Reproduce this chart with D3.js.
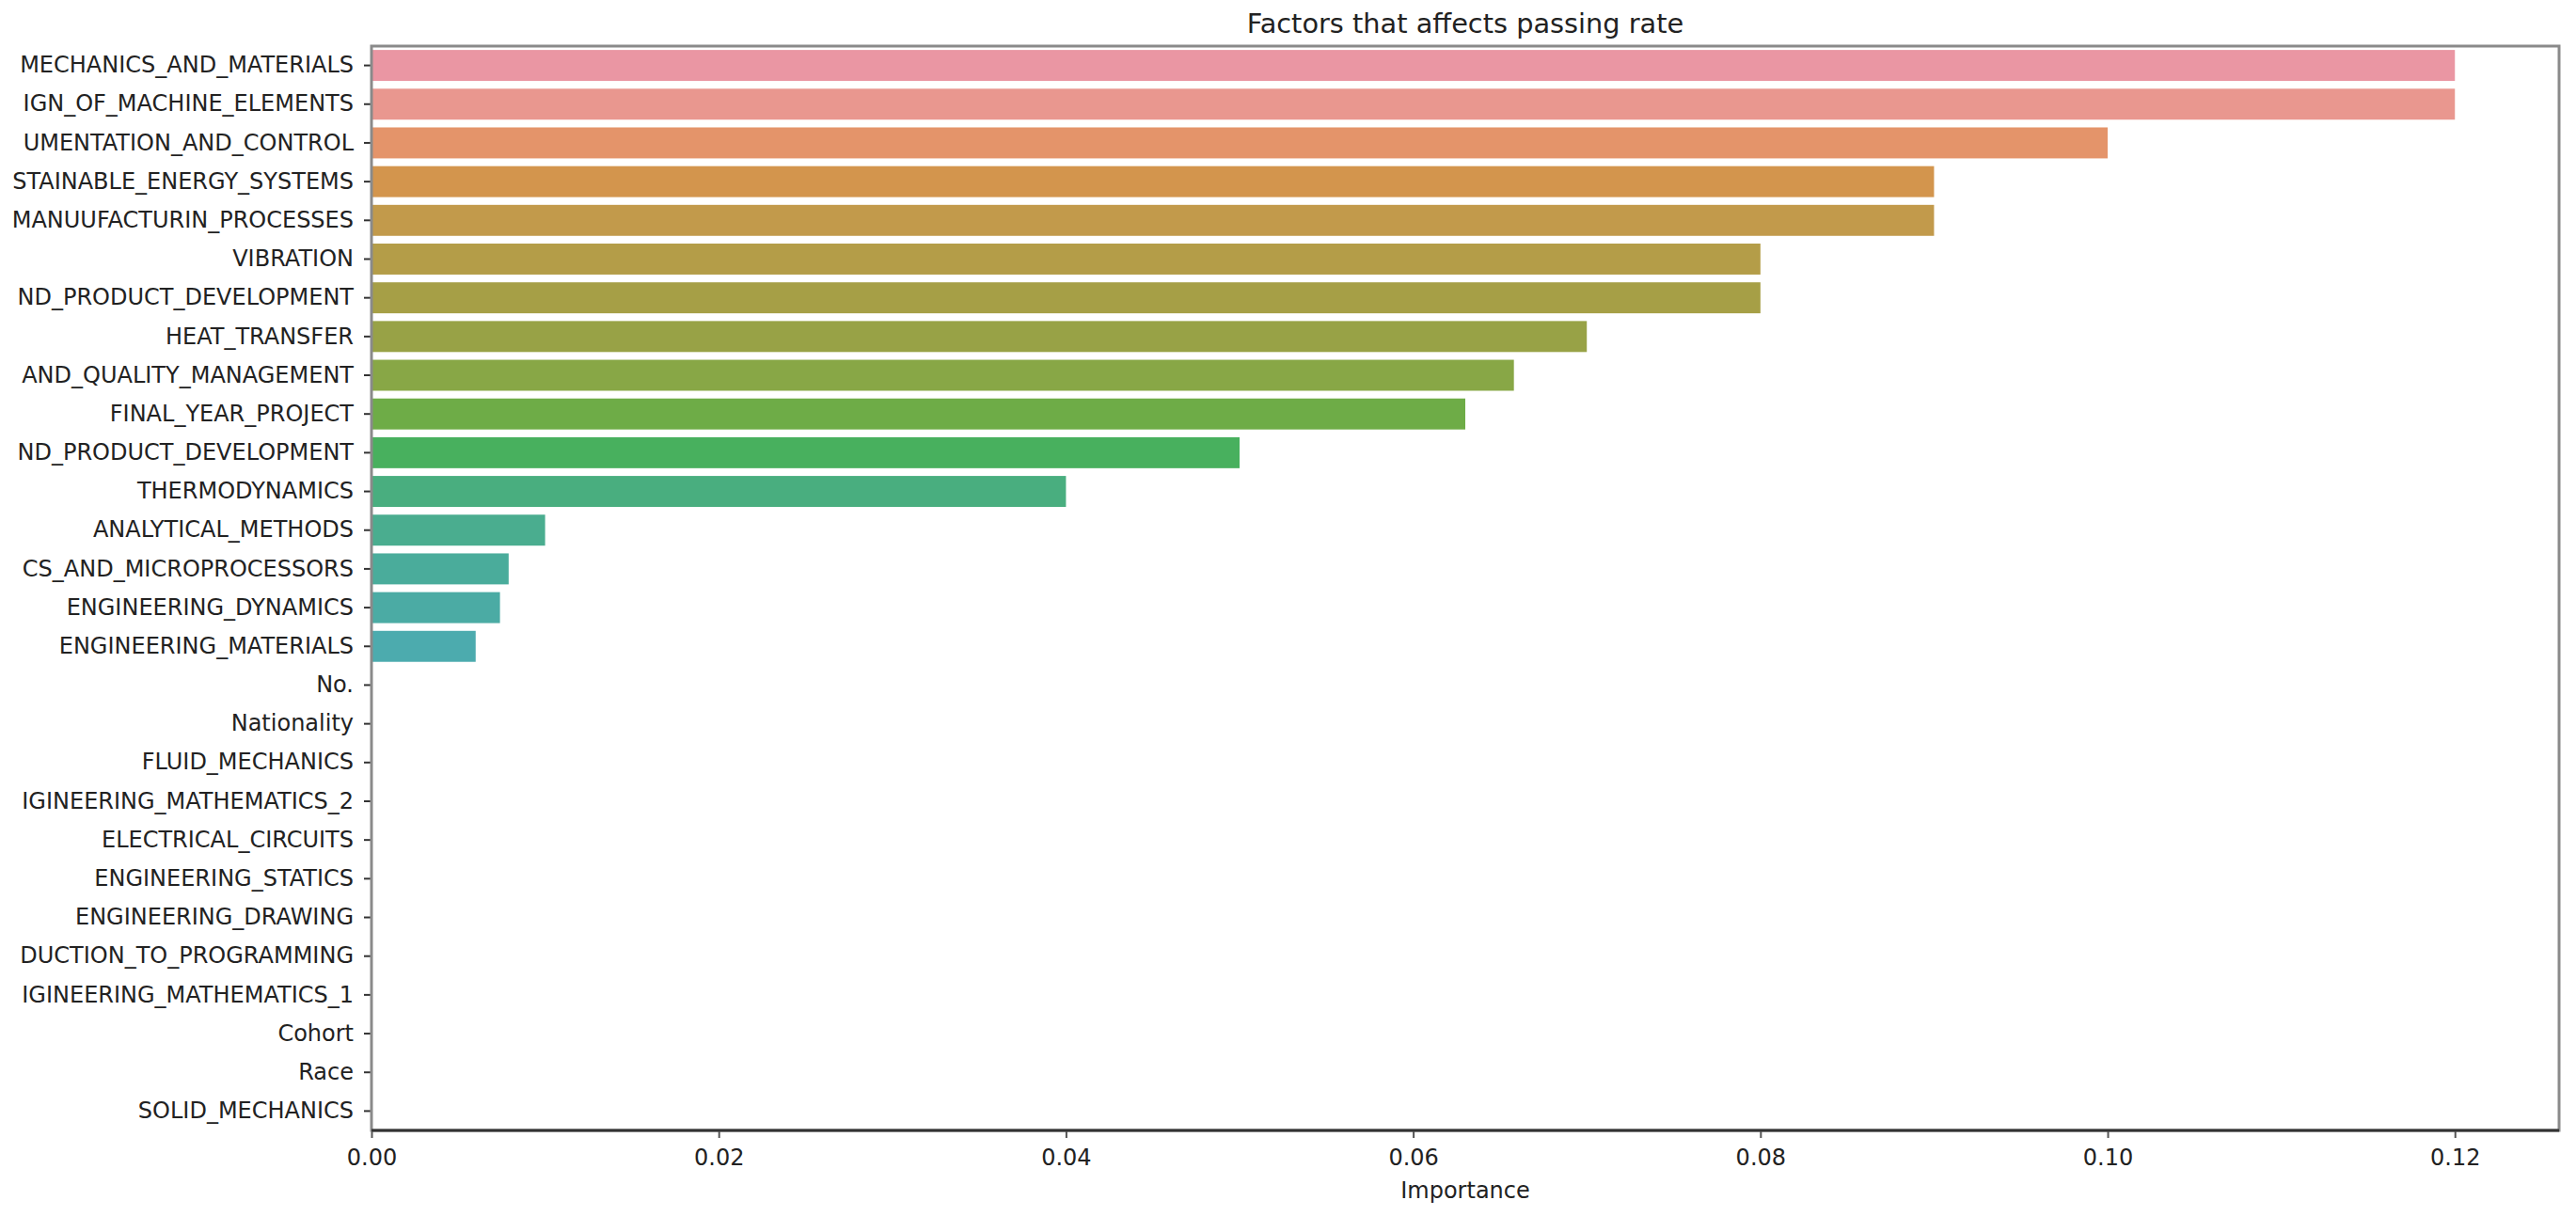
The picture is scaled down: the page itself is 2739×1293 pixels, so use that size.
<!DOCTYPE html>
<html>
<head>
<meta charset="utf-8">
<script src="https://d3js.org/d3.v7.min.js"></script>
<style>
  body { margin: 0; background: #fff; }
  svg { display: block; font-family: "DejaVu Sans", sans-serif; }
</style>
</head>
<body>
<script>
// Data (labels are cut off at the left edge there)
var factors = [
  "MECHANICS_AND_MATERIALS", "IGN_OF_MACHINE_ELEMENTS", "UMENTATION_AND_CONTROL",
  "STAINABLE_ENERGY_SYSTEMS", "MANUUFACTURIN_PROCESSES", "VIBRATION",
  "ND_PRODUCT_DEVELOPMENT", "HEAT_TRANSFER", "AND_QUALITY_MANAGEMENT",
  "FINAL_YEAR_PROJECT", "ND_PRODUCT_DEVELOPMENT", "THERMODYNAMICS",
  "ANALYTICAL_METHODS", "CS_AND_MICROPROCESSORS", "ENGINEERING_DYNAMICS",
  "ENGINEERING_MATERIALS", "No.", "Nationality", "FLUID_MECHANICS",
  "IGINEERING_MATHEMATICS_2", "ELECTRICAL_CIRCUITS", "ENGINEERING_STATICS",
  "ENGINEERING_DRAWING", "DUCTION_TO_PROGRAMMING", "IGINEERING_MATHEMATICS_1",
  "Cohort", "Race", "SOLID_MECHANICS"
];
var importance = [
  0.12, 0.12, 0.10, 0.09, 0.09, 0.08, 0.08, 0.07, 0.0658, 0.063, 0.05, 0.04,
  0.01, 0.0079, 0.0074, 0.006, 0, 0, 0, 0, 0, 0, 0, 0, 0, 0, 0, 0
];
var xTicks = [0, 0.02, 0.04, 0.06, 0.08, 0.10, 0.12];

var svgWidth = 2739;
var svgHeight = 1293;
var margin = { top: 49, right: 18, bottom: 91, left: 395 };
var width = svgWidth - margin.left - margin.right;
var height = svgHeight - margin.top - margin.bottom;

// seaborn husl palette (l=.7 for many categories) + barplot desaturation
var M = [[3.2406, -1.5372, -0.4986], [-0.9689, 1.8758, 0.0415], [0.0557, -0.2040, 1.0570]];
function maxChroma(L, H) {
  var hr = H * Math.PI / 180, sinH = Math.sin(hr), cosH = Math.cos(hr);
  var sub1 = Math.pow(L + 16, 3) / 1560896.0;
  var sub2 = sub1 > 0.008856 ? sub1 : L / 903.3;
  var result = Infinity;
  M.forEach(function(row) {
    var m1 = row[0], m2 = row[1], m3 = row[2];
    var top = (0.99915 * m1 + 1.05122 * m2 + 1.14460 * m3) * sub2;
    var rb = 0.86330 * m3 - 0.17266 * m2;
    var lb = 0.12949 * m3 - 0.38848 * m1;
    var bottom = (rb * sinH + lb * cosH) * sub2;
    [0, 1].forEach(function(t) {
      var C = L * (top - 1.05122 * t) / (bottom + 0.17266 * sinH * t);
      if (C > 0 && C < result) result = C;
    });
  });
  return result;
}
function huslToRgb(H, S, L) {
  var C = maxChroma(L, H) / 100 * S;
  var hr = H * Math.PI / 180;
  var U = Math.cos(hr) * C, V = Math.sin(hr) * C;
  var t = (L + 16) / 116;
  var varY = Math.pow(t, 3) > 0.008856 ? Math.pow(t, 3) : (116 * t - 16) / 903.3;
  var varU = U / (13 * L) + 0.19784;
  var varV = V / (13 * L) + 0.46834;
  var Y = varY;
  var X = 0 - (9 * Y * varU) / ((varU - 4) * varV - varU * varV);
  var Z = (9 * Y - 15 * varV * Y - varV * X) / (3 * varV);
  return M.map(function(r) {
    var c = r[0] * X + r[1] * Y + r[2] * Z;
    c = c <= 0.0031308 ? 12.92 * c : 1.055 * Math.pow(c, 1 / 2.4) - 0.055;
    return Math.max(0, Math.min(1, c));
  });
}
var n = factors.length;
var colors = d3.range(n).map(function(i) {
  var h = ((i / n + 0.01) % 1) * 359;
  var rgb = huslToRgb(h, 0.9 * 99, 0.7 * 99);
  var c = d3.hsl(d3.rgb(rgb[0] * 255, rgb[1] * 255, rgb[2] * 255));
  c.s *= 0.75;
  return c.formatHex();
});

var svg = d3.select("body").append("svg")
  .attr("width", svgWidth)
  .attr("height", svgHeight);

svg.append("rect").attr("width", svgWidth).attr("height", svgHeight).attr("fill", "#fff");

var chartGroup = svg.append("g")
  .attr("transform", `translate(${margin.left}, ${margin.top})`);

var xScale = d3.scaleLinear()
  .domain([0, d3.max(importance) * 1.05])
  .range([0, width]);

var yScale = d3.scaleBand()
  .domain(d3.range(n))
  .range([0, height])
  .paddingInner(0.2)
  .paddingOuter(0.1);

// bars
chartGroup.selectAll("rect.bar")
  .data(importance)
  .enter()
  .append("rect")
  .attr("class", "bar")
  .attr("x", xScale(0))
  .attr("y", (d, i) => yScale(i))
  .attr("width", d => xScale(d) - xScale(0))
  .attr("height", yScale.bandwidth())
  .attr("fill", (d, i) => colors[i]);

// x axis
var xAxis = chartGroup.append("g")
  .attr("transform", `translate(0, ${height})`)
  .call(d3.axisBottom(xScale).tickValues(xTicks).tickFormat(d3.format(".2f")).tickSize(8).tickPadding(12));
xAxis.select(".domain").remove();
xAxis.selectAll(".tick line").attr("stroke", "#555").attr("stroke-width", 2);
xAxis.selectAll("text").attr("font-size", 24).attr("fill", "#222")
  .attr("font-family", "DejaVu Sans");

// y axis
var yAxis = chartGroup.append("g")
  .call(d3.axisLeft(yScale).tickFormat(i => factors[i]).tickSize(8).tickPadding(11));
yAxis.select(".domain").remove();
yAxis.selectAll(".tick line").attr("stroke", "#333").attr("stroke-width", 2);
yAxis.selectAll("text").attr("font-size", 24).attr("fill", "#222")
  .attr("font-family", "DejaVu Sans");

// spines
chartGroup.append("rect")
  .attr("x", 0).attr("y", 0)
  .attr("width", width).attr("height", height)
  .attr("fill", "none")
  .attr("stroke", "#8a8a8a")
  .attr("stroke-width", 3);
chartGroup.append("line")
  .attr("x1", 0).attr("x2", width)
  .attr("y1", height).attr("y2", height)
  .attr("stroke", "#333")
  .attr("stroke-width", 3);

// title and axis label
chartGroup.append("text")
  .attr("x", width / 2)
  .attr("y", -14)
  .attr("text-anchor", "middle")
  .attr("font-size", 28.8)
  .attr("fill", "#222")
  .text("Factors that affects passing rate");

chartGroup.append("text")
  .attr("x", width / 2)
  .attr("y", height + 72)
  .attr("text-anchor", "middle")
  .attr("font-size", 24)
  .attr("fill", "#222")
  .text("Importance");
</script>
</body>
</html>
